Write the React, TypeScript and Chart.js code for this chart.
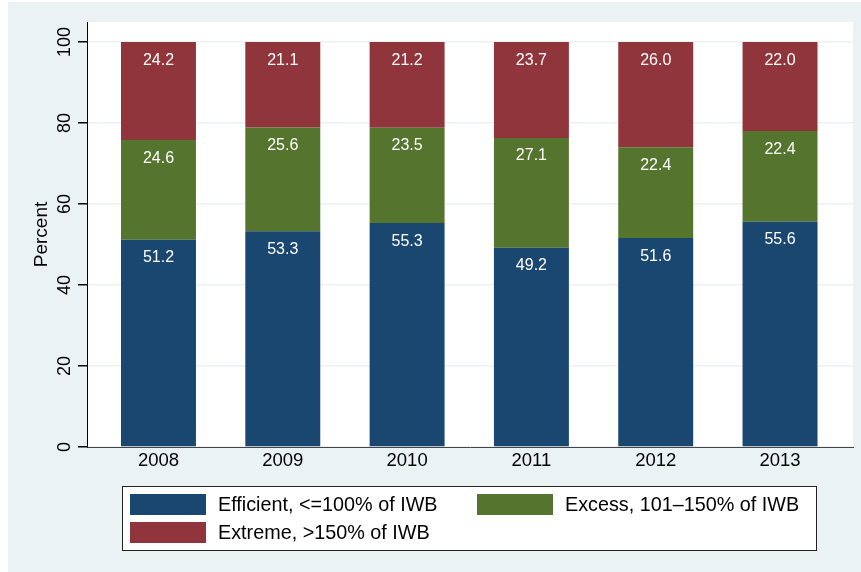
import React, { useEffect, useRef } from "react";
import { Chart, registerables } from "chart.js";

Chart.register(...registerables);

const years = ["2008", "2009", "2010", "2011", "2012", "2013"];
const efficient = [51.2, 53.3, 55.3, 49.2, 51.6, 55.6];
const excess = [24.6, 25.6, 23.5, 27.1, 22.4, 22.4];
const extreme = [24.2, 21.1, 21.2, 23.7, 26.0, 22.0];
const yTicks = [0, 20, 40, 60, 80, 100];

const seriesLabels = [
  "Efficient, <=100% of IWB",
  "Excess, 101\u2013150% of IWB",
  "Extreme, >150% of IWB",
];
const seriesColors = ["#1A476F", "#55752F", "#90353B"];

const FONT = "'Liberation Sans', Arial, Helvetica, sans-serif";
const BG = "#EAF2F3";

const backgroundPlugin = {
  id: "stataBackground",
  beforeDraw(chart: any) {
    const { ctx, chartArea } = chart;
    ctx.save();
    ctx.fillStyle = "#ffffff";
    ctx.fillRect(0, 0, chart.width, chart.height);
    ctx.fillStyle = BG;
    ctx.fillRect(8, 2, chart.width - 8, chart.height - 2);
    ctx.fillStyle = "#ffffff";
    ctx.fillRect(
      chartArea.left,
      chartArea.top,
      chartArea.right - chartArea.left,
      chartArea.bottom - chartArea.top
    );
    ctx.restore();
  },
};

const annotationsPlugin = {
  id: "stataAnnotations",
  afterDatasetsDraw(chart: any) {
    const { ctx } = chart;
    ctx.save();
    ctx.fillStyle = "#ffffff";
    ctx.font = `16px ${FONT}`;
    ctx.textAlign = "center";
    ctx.textBaseline = "alphabetic";
    chart.data.datasets.forEach((ds: any, di: number) => {
      const meta = chart.getDatasetMeta(di);
      meta.data.forEach((bar: any, i: number) => {
        const v = ds.data[i].y;
        ctx.fillText(v.toFixed(1), bar.x, bar.y + 22.5);
      });
    });
    ctx.restore();
  },
  afterDraw(chart: any) {
    const { ctx, chartArea } = chart;
    const yScale = chart.scales.y;
    ctx.save();
    ctx.fillStyle = "#000000";
    ctx.font = `18px ${FONT}`;
    ctx.textAlign = "center";
    ctx.textBaseline = "alphabetic";
    // rotated y tick labels
    yTicks.forEach((t) => {
      const py = yScale.getPixelForValue(t);
      ctx.save();
      ctx.translate(63, py);
      ctx.rotate(-Math.PI / 2);
      ctx.fillText(String(t), 0, 6.5);
      ctx.restore();
    });
    // y axis title
    ctx.save();
    ctx.font = `19px ${FONT}`;
    ctx.translate(40, (chartArea.top + chartArea.bottom) / 2);
    ctx.rotate(-Math.PI / 2);
    ctx.fillText("Percent", 0, 6.8);
    ctx.restore();

    // legend
    const bx = 122, by = 486, bw = 695, bh = 65;
    ctx.fillStyle = "#ffffff";
    ctx.fillRect(bx, by, bw, bh);
    ctx.strokeStyle = "#222222";
    ctx.lineWidth = 1;
    ctx.strokeRect(bx + 0.5, by + 0.5, bw - 1, bh - 1);
    const slots = [
      { x: 130, y: 494 },
      { x: 477, y: 494 },
      { x: 130, y: 522 },
    ];
    ctx.textAlign = "left";
    ctx.font = `19.8px ${FONT}`;
    chart.data.datasets.forEach((ds: any, di: number) => {
      const s = slots[di];
      ctx.fillStyle = ds.backgroundColor;
      ctx.fillRect(s.x, s.y, 76, 21);
      ctx.fillStyle = "#000000";
      ctx.fillText(ds.label, s.x + 88, s.y + 17);
    });
    ctx.restore();
  },
};

export default function App() {
  const canvasRef = useRef<HTMLCanvasElement | null>(null);

  useEffect(() => {
    if (!canvasRef.current) return;
    const series = [efficient, excess, extreme];
    const chart = new Chart(canvasRef.current, {
      type: "bar",
      data: {
        datasets: series.map((vals, si) => ({
          label: seriesLabels[si],
          data: vals.map((v, i) => ({ x: i, y: v })),
          backgroundColor: seriesColors[si],
          borderWidth: 0,
          barPercentage: 0.603,
          categoryPercentage: 1,
        })),
      },
      options: {
        animation: false,
        responsive: false,
        devicePixelRatio: 1,
        layout: { padding: { left: 0, right: 8, top: 22, bottom: 0 } },
        plugins: {
          legend: { display: false },
          tooltip: { enabled: false },
        },
        scales: {
          x: {
            type: "linear",
            stacked: true,
            offset: false,
            min: -0.575,
            max: 5.587,
            afterBuildTicks: (scale: any) => {
              scale.ticks = years.map((_, i) => ({ value: i }));
            },
            afterFit: (scale: any) => {
              scale.height = 125;
            },
            grid: { display: true, offset: false, drawOnChartArea: false, drawTicks: false },
            border: { display: true, color: "#444444", width: 1 },
            ticks: {
              autoSkip: false,
              maxRotation: 0,
              minRotation: 0,
              padding: 3,
              color: "#000000",
              font: { family: FONT, size: 18.5 },
              callback: (v: any) => years[v as number] ?? "",
            },
          },
          y: {
            type: "linear",
            stacked: true,
            min: 0,
            max: 104.94,
            afterBuildTicks: (scale: any) => {
              scale.ticks = yTicks.map((v) => ({ value: v }));
            },
            afterFit: (scale: any) => {
              scale.width = 87;
            },
            grid: {
              color: BG,
              lineWidth: 1.5,
              tickColor: "#000000",
              tickLength: 9,
              drawTicks: true,
            },
            border: { display: true, color: "#000000", width: 1 },
            ticks: { display: false },
          },
        },
      },
      plugins: [backgroundPlugin, annotationsPlugin],
    } as any);
    return () => chart.destroy();
  }, []);

  return (
    <div style={{ position: "fixed", left: 0, top: 0, width: 861, height: 572 }}>
      <canvas
        ref={canvasRef}
        width={861}
        height={572}
        style={{ display: "block", width: 861, height: 572 }}
      />
    </div>
  );
}
